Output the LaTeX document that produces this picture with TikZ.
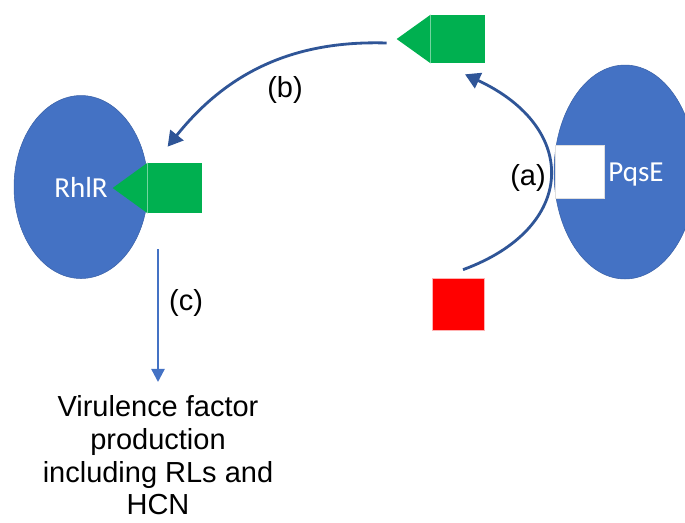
\documentclass[tikz,border=0pt]{standalone}
\usepackage{fontspec}
\setmainfont{Liberation Sans}
\newfontfamily\carlito{Carlito}
\usepackage{tikz}
\usetikzlibrary{shapes,arrows.meta,positioning,calc}
\definecolor{protblue}{HTML}{4472C4}
\definecolor{pathblue}{HTML}{2F5597}
\definecolor{liggreen}{HTML}{00B050}

\begin{document}
\begin{tikzpicture}[
    x=0.02cm, y=-0.02cm,
    protein/.style={ellipse, fill=protblue, draw=protblue!85!black, line width=0.3pt, inner sep=0pt, text=white, font=\carlito\fontsize{16.5}{19}\selectfont},
    ligand/.style={rectangle, fill=liggreen, minimum width=1.08cm, inner sep=0pt},
    seam/.style={draw=liggreen!55!white, line width=0.4pt},
    pathway/.style={-{Triangle[length=8.5pt,width=9.5pt]}, draw=pathblue, line width=1.6pt},
    outarrow/.style={-{Triangle[length=7.5pt,width=7.5pt]}, draw=protblue, line width=1.3pt},
    tag/.style={font=\fontsize{16.5}{18.7}\selectfont}
]
\useasboundingbox (0,0) rectangle (685,522);

% Proteins
\node[protein, minimum width=2.68cm, minimum height=3.66cm] (rhl_r) at (81,187) {RhlR};
\node[protein, minimum width=2.84cm, minimum height=4.28cm] (pqs_e) at (625,172) {};
\node[rectangle, fill=white, draw=gray!25, minimum width=0.98cm, minimum height=1.06cm, inner sep=0pt] (pqs_site) at (579.5,171.5) {};
\node[text=white, font=\carlito\fontsize{16.5}{19}\selectfont] (pqs_name) at (636,175) {PqsE};

% Signal molecules
\node[ligand, minimum height=0.96cm] (sig_free) at (458,39) {};
\coordinate (sig_free_tip) at ($(sig_free.west)+(-34,0)$);
\fill[liggreen] (sig_free.north west) -- (sig_free_tip) -- (sig_free.south west) -- cycle;
\draw[seam] (sig_free.north west) -- (sig_free.south west);

\node[ligand, minimum height=1.0cm] (sig_bound) at (175,188) {};
\coordinate (sig_bound_tip) at ($(sig_bound.west)+(-35,0)$);
\fill[liggreen] (sig_bound.north west) -- (sig_bound_tip) -- (sig_bound.south west) -- cycle;
\draw[seam] (sig_bound.north west) -- (sig_bound.south west);

% Precursor
\node[rectangle, fill=red, draw=red!30, minimum size=1.04cm, inner sep=0pt] (precursor) at (458,304) {};

% Output
\node[tag, align=center, anchor=north, inner sep=0pt] (virulence) at (158,395) {Virulence factor\\production\\including RLs and\\HCN};

% Arrows
\draw[pathway] ([shift={(5,-8)}]precursor.north) .. controls (577,228) and (580,128) .. ([shift={(7,11)}]sig_free.south);
\draw[pathway] ([shift={(-10,4)}]sig_free_tip) .. controls (290,40) and (225,75) .. ([shift={(20,-16)}]sig_bound.north west);
\coordinate (c_start) at ([shift={(-17,36)}]sig_bound.south);
\draw[outarrow, shorten >=0.26cm] (c_start) -- (c_start |- virulence.north);

% Labels
\node[tag] (lab_a) at (528,178) {(a)};
\node[tag] (lab_b) at (285,90) {(b)};
\node[tag] (lab_c) at (186,303) {(c)};

\end{tikzpicture}
\end{document}
